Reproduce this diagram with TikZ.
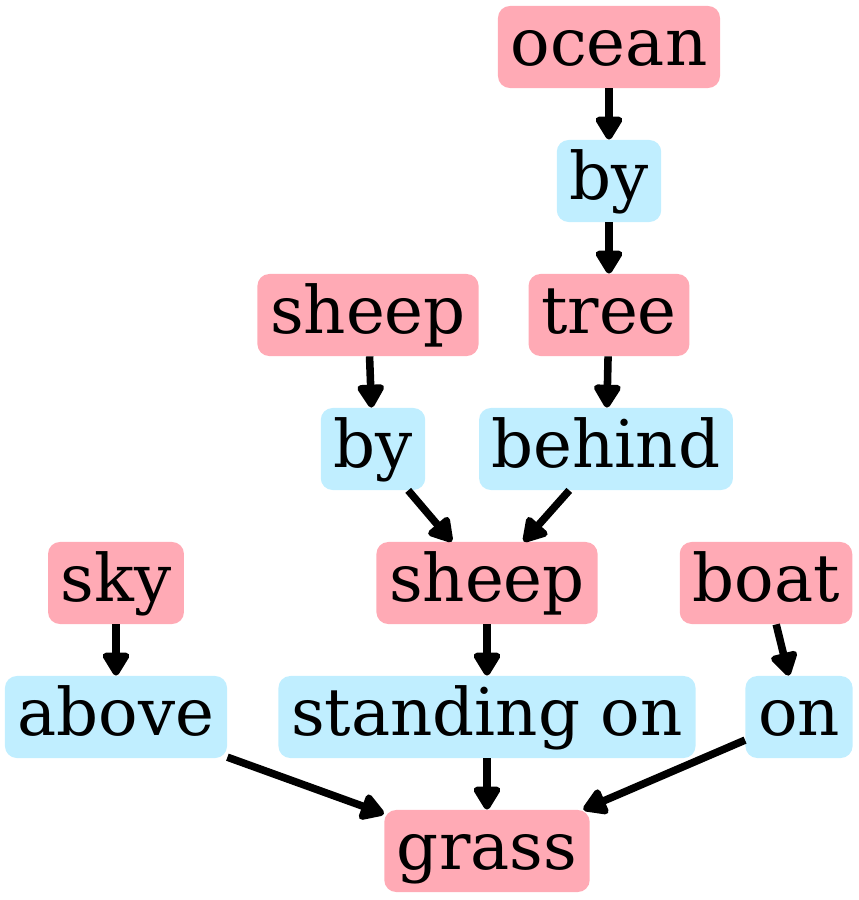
\documentclass[tikz,border=0pt]{standalone}
\usepackage{fontspec}
\setmainfont{DejaVu Serif}
\usetikzlibrary{arrows.meta}
\definecolor{objpink}{HTML}{FFAAB5}
\definecolor{relblue}{HTML}{C0EEFF}
\tikzset{
	box/.style={rounded corners=6.8pt, minimum height=46.7pt, inner xsep=7.2pt, inner ysep=2pt,
		text height=29.6pt, text depth=9pt, font=\fontsize{37.4}{44}\selectfont},
	obj/.style={box, fill=objpink},
	rel/.style={box, fill=relblue},
	edge/.style={line width=4.3pt, -{Triangle[length=15pt, width=17pt, round]}}
}
\begin{document}
\begin{tikzpicture}[x=0.02cm, y=-0.02cm]
	\useasboundingbox (0,0) rectangle (859,900);
	% objects
	\node[obj] (ocean) at (609,47) {ocean};
	\node[obj] (tree) at (609,315) {tree};
	\node[obj] (sheepA) at (368,315) {sheep};
	\node[obj] (sky) at (116,583) {sky};
	\node[obj] (sheepB) at (487,583) {sheep};
	\node[obj] (boat) at (766,583) {boat};
	\node[obj] (grass) at (487,851) {grass};
	% relations
	\node[rel] (byA) at (609,181) {by};
	\node[rel] (byB) at (373,449) {by};
	\node[rel] (behind) at (606,449) {behind};
	\node[rel] (above) at (116,717) {above};
	\node[rel] (standing) at (487,717) {standing on};
	\node[rel] (on) at (799,717) {on};
	% edges
	\draw[edge] (ocean) -- (byA);
	\draw[edge] (byA) -- (tree);
	\draw[edge] (tree) -- (behind);
	\draw[edge] (sheepA) -- (byB);
	\draw[edge] (byB) -- (sheepB);
	\draw[edge] (behind) -- (sheepB);
	\draw[edge] (sky) -- (above);
	\draw[edge] (sheepB) -- (standing);
	\draw[edge] (boat) -- (on);
	\draw[edge] (above) -- (grass);
	\draw[edge] (standing) -- (grass);
	\draw[edge] (on) -- (grass);
\end{tikzpicture}
\end{document}
